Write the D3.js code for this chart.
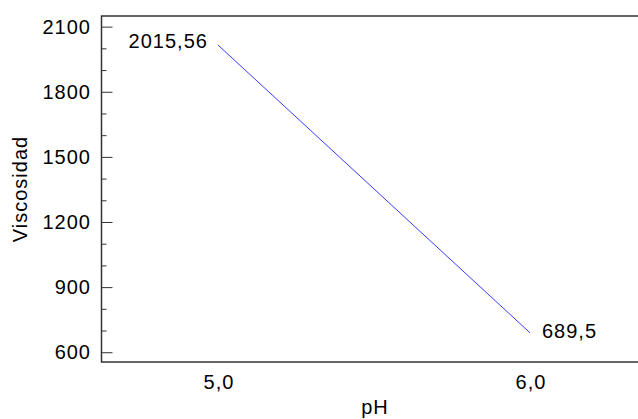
<!DOCTYPE html>
<html>
<head>
<meta charset="utf-8">
<script src="https://cdn.jsdelivr.net/npm/d3@7"></script>
<style>
body { margin: 0; background: #fff; }
svg text { font-family: "Liberation Sans", Arial, sans-serif; font-size: 20px; fill: #000; letter-spacing: 1px; }
</style>
</head>
<body>
<div id="chart"></div>
<script>

/* data */
const ph = [5.0, 6.0];
const viscosidad = [2015.56, 689.5];
const pointLabels = ["2015,56", "689,5"];
const yTicks = [600, 900, 1200, 1500, 1800, 2100];
const yMinorTicks = [700, 800, 1000, 1100, 1300, 1400, 1600, 1700, 1900, 2000];
const xTicks = [5.0, 6.0];

const width = 638;
const height = 419;

const plotLeft = 101.5, plotRight = 640, plotTop = 16, plotBottom = 362;

const es = d3.formatLocale({decimal: ",", thousands: "", grouping: [3], currency: ["", ""]});

const svg = d3.select("#chart")
.append("svg")
.attr("width", width)
.attr("height", height);

const x = d3.scaleLinear().domain([4.627, 6.346]).range([plotLeft, 638]);
const y = d3.scaleLinear().domain([555, 2149]).range([plotBottom, plotTop]);

// minor ticks
svg.append("g")
.attr("transform", `translate(${plotLeft},0)`)
.call(d3.axisLeft(y).tickValues(yMinorTicks).tickSize(-5).tickFormat(""))
.call(g => g.select(".domain").remove())
.call(g => g.selectAll("line").attr("stroke", "#333"));

// major ticks
svg.append("g")
.attr("transform", `translate(${plotLeft},0)`)
.call(d3.axisLeft(y).tickValues(yTicks).tickSize(-11).tickPadding(10.5).tickFormat(d3.format("d")))
.call(g => g.select(".domain").remove())
.call(g => g.selectAll("line").attr("stroke", "#333"))
.call(g => g.selectAll("text").attr("font-size", null).attr("font-family", null).attr("fill", null));

// x axis labels, no ticks
svg.append("g")
.attr("transform", `translate(0,${plotBottom})`)
.call(d3.axisBottom(x).tickValues(xTicks).tickSize(0).tickPadding(13).tickFormat(es.format(".1f")))
.call(g => g.select(".domain").remove())
.call(g => g.selectAll("text").attr("font-size", null).attr("font-family", null).attr("fill", null).attr("dx", "0.5px"));

// frame
svg.append("path")
.attr("d", `M${plotRight},${plotTop}H${plotLeft}V${plotBottom}H${plotRight}`)
.attr("fill", "none")
.attr("stroke", "#333")
.attr("stroke-width", 1.5);

// line
const pts = ph.map((d, i) => ({x: d, y: viscosidad[i], label: pointLabels[i]}));

svg.append("path")
.datum(pts)
.attr("fill", "none")
.attr("stroke", "#3c3cff")
.attr("stroke-width", 1)
.attr("d", d3.line().x(d => x(d.x)).y(d => y(d.y)));

// value labels
svg.append("text")
.attr("x", x(pts[0].x) - 10)
.attr("y", y(pts[0].y) + 3.5)
.attr("text-anchor", "end")
.text(pts[0].label);

svg.append("text")
.attr("x", x(pts[1].x) + 12)
.attr("y", y(pts[1].y) + 5.5)
.text(pts[1].label);

// axis titles
svg.append("text")
.attr("x", 375)
.attr("y", 414)
.attr("text-anchor", "middle")
.text("pH");

svg.append("text")
.attr("transform", `translate(27,${189}) rotate(-90)`)
.attr("text-anchor", "middle")
.text("Viscosidad");

</script>
</body>
</html>
